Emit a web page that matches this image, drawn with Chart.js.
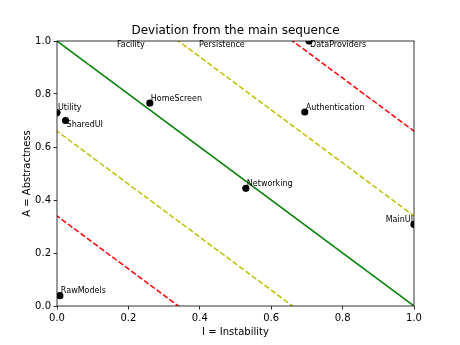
<!DOCTYPE html>
<html>
<head>
<meta charset="utf-8">
<script src="https://cdn.jsdelivr.net/npm/chart.js@4/dist/chart.umd.min.js"></script>
<style>
  html, body { margin: 0; padding: 0; background: #fff; }
  #wrap { width: 460px; height: 345px; }
</style>
</head>
<body>
<div id="wrap"><canvas id="mainSeq"></canvas></div>
<script>
// components: instability I and abstractness A
const names = ["Utility", "SharedUI", "HomeScreen", "DataProviders", "Authentication",
  "Networking", "MainUI", "RawModels", "Facility", "Persistence"];
const instability = [0.0, 0.024, 0.26, 0.706, 0.694, 0.529, 1.0, 0.008, 0.165, 0.395];
const abstractness = [0.73, 0.70, 0.766, 1.0, 0.732, 0.444, 0.308, 0.039, 1.0, 1.0];
// labels drawn without a marker
const labelOnly = ["Facility", "Persistence"];

// main sequence A + I = 1, zones at distance +-0.34 and +-0.66
const mainSeq = 1;
const zoneOffsets = [0.34, 0.66];
const zoneColors = ["#bfbf00", "#ff0000"];
const tickValues = [0, 0.2, 0.4, 0.6, 0.8, 1.0];

// where the label sits relative to its dot
const labelSide = { SharedUI: "below", DataProviders: "below", Facility: "below", Persistence: "below", MainUI: "left" };

Chart.defaults.font.family = "DejaVu Sans";
Chart.defaults.color = "#000";

function lineFor(c) {
  return [{ x: -1, y: c + 1 }, { x: 2, y: c - 2 }];
}

const datasets = [
  { type: "line", data: lineFor(mainSeq), borderColor: "#008000", borderWidth: 1.5, pointRadius: 0, fill: false }
];
zoneOffsets.forEach((d, i) => {
  [mainSeq + d, mainSeq - d].forEach((c) => {
    datasets.push({
      type: "line", data: lineFor(c), borderColor: zoneColors[i], borderWidth: 1.5,
      borderDash: [5.5, 2.4], pointRadius: 0, fill: false
    });
  });
});
datasets.push({
  type: "scatter",
  data: names.map((n, i) => ({ x: instability[i], y: abstractness[i], name: n })),
  backgroundColor: "#000",
  borderWidth: 0,
  pointRadius: (ctx) => (labelOnly.includes(names[ctx.dataIndex]) ? 0 : 3.6),
  pointHoverRadius: 0
});

const frame = {
  id: "frame",
  afterDatasetsDraw(chart) {
    const { ctx, chartArea: a } = chart;
    ctx.save();
    ctx.strokeStyle = "#000";
    ctx.lineWidth = 0.8;
    ctx.strokeRect(a.left, a.top, a.right - a.left, a.bottom - a.top);

    // point labels
    const meta = chart.getDatasetMeta(chart.data.datasets.length - 1);
    ctx.font = "8px DejaVu Sans";
    ctx.fillStyle = "#000";
    ctx.textBaseline = "middle";
    meta.data.forEach((pt, i) => {
      const side = labelSide[names[i]];
      let x = Math.min(Math.max(pt.x, a.left), a.right);
      let y = Math.min(Math.max(pt.y, a.top), a.bottom);
      if (side === "left") {
        ctx.textAlign = "right";
        ctx.fillText(names[i], x - 1, y - 4.5);
      } else {
        ctx.textAlign = "left";
        ctx.fillText(names[i], x + 1, side === "below" ? y + 4 : y - 4.5);
      }
    });
    ctx.restore();
  }
};

const axisCommon = {
  type: "linear",
  min: 0,
  max: 1,
  border: { display: false },
  grid: { drawOnChartArea: false, drawTicks: true, tickLength: 3.5, tickColor: "#000", lineWidth: 0.8 },
  afterBuildTicks: (s) => { s.ticks = tickValues.map((v) => ({ value: v })); },
  ticks: { font: { size: 10 }, color: "#000", callback: (v) => Number(v).toFixed(1) }
};

new Chart(document.getElementById("mainSeq"), {
  data: { datasets },
  plugins: [frame],
  options: {
    responsive: true,
    maintainAspectRatio: false,
    animation: false,
    events: [],
    layout: { padding: { left: 0, right: 46, top: 0, bottom: 0 } },
    plugins: {
      legend: { display: false },
      tooltip: { enabled: false },
      title: {
        display: true,
        text: "Deviation from the main sequence",
        fullSize: false,
        color: "#000",
        font: { size: 12, weight: "normal" },
        padding: { top: 23.3, bottom: 3.3 }
      }
    },
    scales: {
      x: {
        ...axisCommon,
        position: "bottom",
        ticks: { ...axisCommon.ticks, padding: 2.5, maxRotation: 0 },
        title: { display: true, text: "I = Instability", color: "#000", font: { size: 10 }, padding: { top: 0, bottom: 7 } },
        afterFit: (s) => { s.height = 39; }
      },
      y: {
        ...axisCommon,
        position: "left",
        ticks: { ...axisCommon.ticks, padding: 2.5 },
        title: { display: true, text: "A = Abstractness", color: "#000", font: { size: 10 }, padding: { top: 21, bottom: 0 } },
        afterFit: (s) => { s.width = 57; }
      }
    }
  }
});
</script>
</body>
</html>
